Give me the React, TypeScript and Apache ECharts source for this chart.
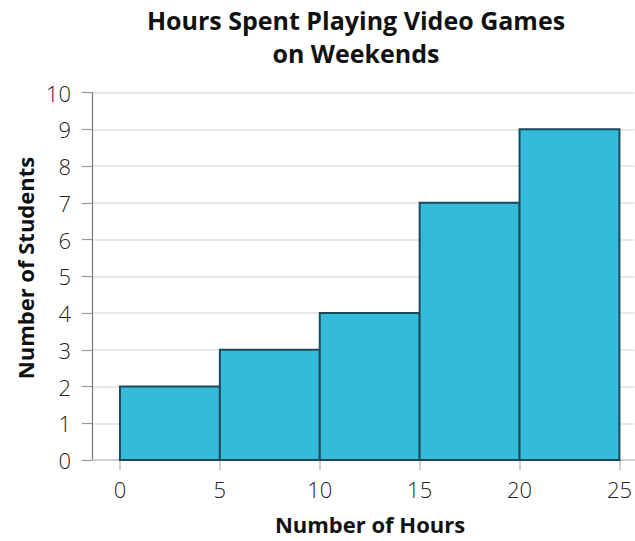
import React, { useEffect, useRef } from "react";
import * as echarts from "echarts";

const binStarts = [0, 5, 10, 15, 20];
const binEnds = [5, 10, 15, 20, 25];
const studentCounts = [2, 3, 4, 7, 9];
const xTickValues = [0, 5, 10, 15, 20, 25];

const titleLine1 = "Hours Spent Playing Video Games";
const titleLine2 = "on Weekends";
const xName = "Number of Hours";
const yName = "Number of Students";

const FONT = "'Open Sans', 'Noto Sans', sans-serif";

export default function App() {
  const ref = useRef<HTMLDivElement>(null);
  useEffect(() => {
    document.body.style.margin = "0";
    const chart = echarts.init(ref.current!, null, { renderer: "svg" });
    const data = binStarts.map((s, i) => [s, binEnds[i], studentCounts[i]]);
    const titleStyle = {
      fontFamily: FONT,
      fontWeight: "bold",
      fontSize: 25,
      color: "#111",
    };
    chart.setOption({
      animation: false,
      backgroundColor: "#ffffff",
      title: [
        { text: titleLine1, left: 356, top: 7, textAlign: "center", padding: 0, textStyle: titleStyle },
        { text: titleLine2, left: 356, top: 40, textAlign: "center", padding: 0, textStyle: titleStyle },
      ],
      grid: { left: 92, right: 0, top: 92.5, bottom: 81, containLabel: false },
      xAxis: {
        type: "value",
        min: -1.4,
        max: 25.75,
        splitLine: { show: false },
        axisLine: { show: true, onZero: false, lineStyle: { color: "#c8c8c8", width: 1.5 } },
        axisTick: {
          show: true,
          customValues: xTickValues,
          length: 10,
          lineStyle: { color: "#c0c0c0", width: 1.5 },
        },
        axisLabel: {
          customValues: xTickValues,
          margin: 18,
          fontFamily: FONT,
          fontWeight: 300,
          fontSize: 22,
          color: "#222",
        },
      },
      yAxis: {
        type: "value",
        min: 0,
        max: 10,
        interval: 1,
        axisLine: { show: true, onZero: false, lineStyle: { color: "#777", width: 1.2 } },
        axisTick: { show: true, length: 10, lineStyle: { color: "#999", width: 1.2 } },
        splitLine: { show: true, lineStyle: { color: "#e0e0e0", width: 1.5 } },
        axisLabel: {
          margin: 21,
          fontFamily: FONT,
          fontWeight: 300,
          fontSize: 22,
          color: "#222",
        },
      },
      graphic: [
        {
          type: "text",
          x: 370,
          y: 524,
          style: {
            text: xName,
            font: `bold 22px ${FONT}`,
            fill: "#111",
            align: "center",
            verticalAlign: "middle",
          },
        },
        {
          type: "text",
          x: 25,
          y: 268,
          rotation: Math.PI / 2,
          style: {
            text: yName,
            font: `bold 22px ${FONT}`,
            fill: "#111",
            align: "center",
            verticalAlign: "middle",
          },
        },
      ],
      series: [
        {
          type: "custom",
          data,
          encode: { x: [0, 1], y: 2 },
          renderItem: (params: any, api: any) => {
            const s = api.value(0);
            const e = api.value(1);
            const v = api.value(2);
            const p0 = api.coord([s, v]);
            const p1 = api.coord([e, 0]);
            return {
              type: "rect",
              shape: { x: p0[0], y: p0[1], width: p1[0] - p0[0], height: p1[1] - p0[1] },
              style: { fill: "#33bbd9", stroke: "#1b4a5a", lineWidth: 2 },
            };
          },
        },
      ],
    });
    return () => chart.dispose();
  }, []);
  return <div ref={ref} style={{ width: 635, height: 541 }} />;
}
